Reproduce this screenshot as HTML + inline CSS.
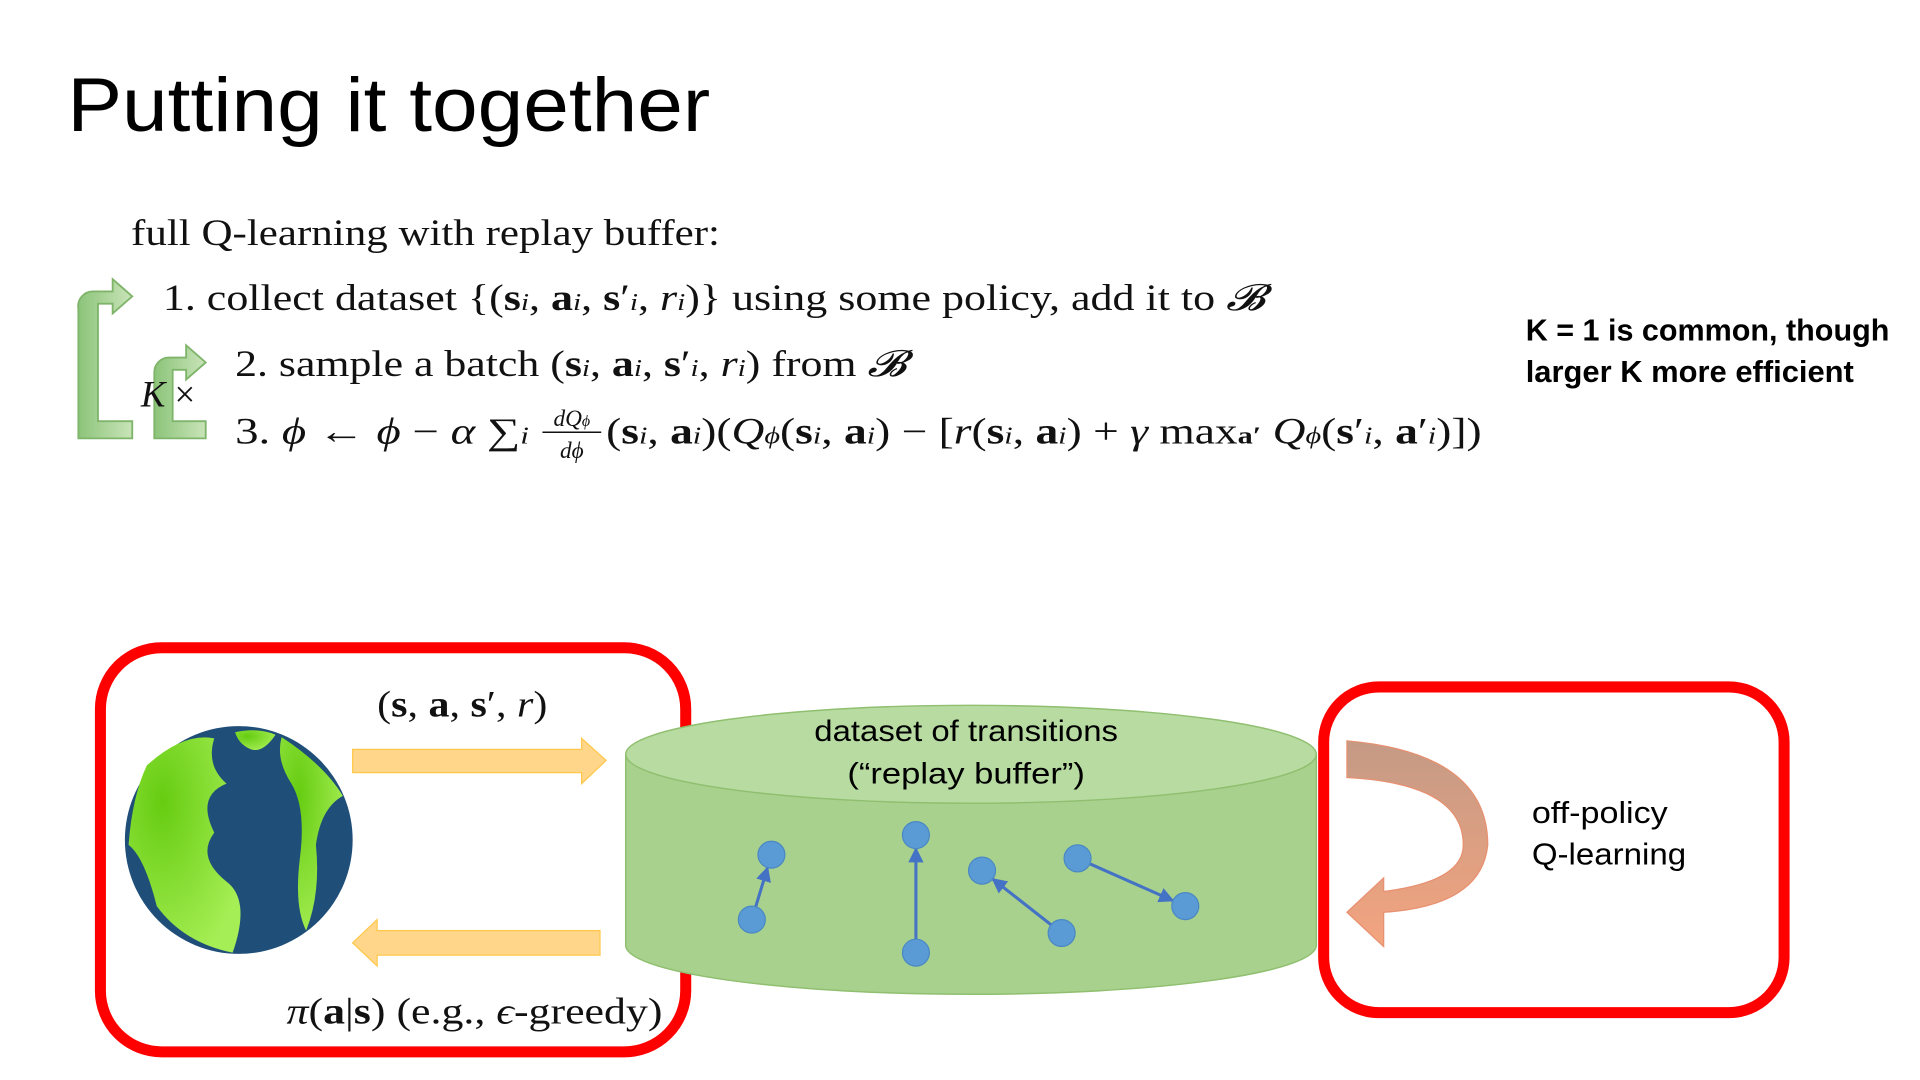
<!DOCTYPE html>
<html><head><meta charset="utf-8"><style>
html,body{margin:0;padding:0;background:#fff;width:1920px;height:1080px;overflow:hidden}
svg{display:block}
.m{font-family:"Liberation Serif",serif;fill:#111}
.s{font-family:"Liberation Sans",sans-serif;fill:#000}
</style></head><body>
<svg width="1920" height="1080" viewBox="0 0 1568 882" xmlns="http://www.w3.org/2000/svg">
<defs>
<linearGradient id="gr" x1="0" y1="0" x2="1" y2="0"><stop offset="0" stop-color="#8cc47a"/><stop offset="1" stop-color="#c9e4b8"/></linearGradient>
<linearGradient id="or" x1="0" y1="0" x2="0" y2="1"><stop offset="0" stop-color="#c49a85"/><stop offset="1" stop-color="#f4a47f"/></linearGradient>
<radialGradient id="land" cx="0.3" cy="0.3" r="0.8"><stop offset="0" stop-color="#66cc11"/><stop offset="1" stop-color="#a6ee55"/></radialGradient>
<marker id="ah" viewBox="0 0 10 10" refX="9" refY="5" markerWidth="5" markerHeight="5" orient="auto"><path d="M0,0L10,5L0,10z" fill="#4472c4"/></marker>
</defs>
<text x="55" y="107" class="s" font-size="62" textLength="525" lengthAdjust="spacingAndGlyphs">Putting it together</text>
<text x="107" y="200" class="m" font-size="30" textLength="481" lengthAdjust="spacingAndGlyphs">full Q-learning with replay buffer:</text>
<text x="133" y="253" class="m" font-size="30" textLength="900" lengthAdjust="spacingAndGlyphs">1. collect dataset {(<tspan font-weight="bold">s</tspan><tspan font-style="italic" font-size="20">i</tspan>, <tspan font-weight="bold">a</tspan><tspan font-style="italic" font-size="20">i</tspan>, <tspan font-weight="bold">s</tspan>′<tspan font-style="italic" font-size="20">i</tspan>, <tspan font-style="italic">r</tspan><tspan font-style="italic" font-size="20">i</tspan>)} using some policy, add it to <tspan font-style="italic">𝓑</tspan></text>
<text x="192" y="307" class="m" font-size="30" textLength="548" lengthAdjust="spacingAndGlyphs">2. sample a batch (<tspan font-weight="bold">s</tspan><tspan font-style="italic" font-size="20">i</tspan>, <tspan font-weight="bold">a</tspan><tspan font-style="italic" font-size="20">i</tspan>, <tspan font-weight="bold">s</tspan>′<tspan font-style="italic" font-size="20">i</tspan>, <tspan font-style="italic">r</tspan><tspan font-style="italic" font-size="20">i</tspan>) from <tspan font-style="italic">𝓑</tspan></text>
<g>
<text x="192" y="362" class="m" font-size="30" textLength="240" lengthAdjust="spacingAndGlyphs">3. <tspan font-style="italic">ϕ</tspan> ← <tspan font-style="italic">ϕ</tspan> − <tspan font-style="italic">α</tspan> ∑<tspan font-style="italic" font-size="20">i</tspan></text>
<text x="467" y="348" class="m" font-size="19" font-style="italic" text-anchor="middle">dQ<tspan font-size="13">ϕ</tspan></text>
<line x1="443" y1="353" x2="491" y2="353" stroke="#111" stroke-width="1.3"/>
<text x="467" y="374" class="m" font-size="19" font-style="italic" text-anchor="middle">dϕ</text>
<text x="495" y="362" class="m" font-size="30" textLength="715" lengthAdjust="spacingAndGlyphs">(<tspan font-weight="bold">s</tspan><tspan font-style="italic" font-size="20">i</tspan>, <tspan font-weight="bold">a</tspan><tspan font-style="italic" font-size="20">i</tspan>)(<tspan font-style="italic">Q</tspan><tspan font-style="italic" font-size="20">ϕ</tspan>(<tspan font-weight="bold">s</tspan><tspan font-style="italic" font-size="20">i</tspan>, <tspan font-weight="bold">a</tspan><tspan font-style="italic" font-size="20">i</tspan>) − [<tspan font-style="italic">r</tspan>(<tspan font-weight="bold">s</tspan><tspan font-style="italic" font-size="20">i</tspan>, <tspan font-weight="bold">a</tspan><tspan font-style="italic" font-size="20">i</tspan>) + <tspan font-style="italic">γ</tspan> max<tspan font-weight="bold" font-size="20">a′</tspan> <tspan font-style="italic">Q</tspan><tspan font-style="italic" font-size="20">ϕ</tspan>(<tspan font-weight="bold">s</tspan>′<tspan font-style="italic" font-size="20">i</tspan>, <tspan font-weight="bold">a</tspan>′<tspan font-style="italic" font-size="20">i</tspan>)])</text>
</g>
<!-- loop arrows -->
<path d="M108,358 H64 V252 A12,12 0 0 1 76,238 H92 V228 L108,242 L92,256 V248 H80 V344 H108 Z" fill="url(#gr)" stroke="#7fb56a" stroke-width="1.5"/>
<path d="M168,358 H126 V304 A12,12 0 0 1 138,292 H152 V282 L168,296 L152,310 V302 H141 V344 H168 Z" fill="url(#gr)" stroke="#7fb56a" stroke-width="1.5"/>
<text x="115" y="332" class="m" font-size="30" font-style="italic">K<tspan font-style="normal"> ×</tspan></text>
<text x="1246" y="278" class="s" font-size="25" font-weight="bold" textLength="297" lengthAdjust="spacingAndGlyphs">K = 1 is common, though</text>
<text x="1246" y="312" class="s" font-size="25" font-weight="bold" textLength="268" lengthAdjust="spacingAndGlyphs">larger K more efficient</text>
<!-- left box -->
<rect x="82" y="529" width="478" height="330" rx="50" fill="none" stroke="#ff0000" stroke-width="9"/>
<g>
<circle cx="195" cy="686" r="93" fill="#1f4e79"/>
<path d="M120,625 Q150,598 175,603 Q168,625 185,640 Q160,650 175,680 Q160,700 185,720 Q205,735 190,778 Q150,770 128,740 Q118,700 105,690 Q108,650 120,625Z" fill="url(#land)"/>
<path d="M230,602 Q265,625 280,650 Q262,660 258,690 Q262,730 250,760 Q240,740 245,700 Q250,660 238,640 Q225,620 230,602Z" fill="url(#land)"/>
<path d="M192,598 Q210,594 225,600 Q215,615 205,612 Q195,608 192,598Z" fill="url(#land)"/>
</g>
<path d="M288,612 H475 V603 L495,621 L475,640 V631 H288 Z" fill="#ffd68a" stroke="#ffc84a" stroke-width="1"/>
<path d="M490,760 H308 V751 L288,770 L308,789 V780 H490 Z" fill="#ffd68a" stroke="#ffc84a" stroke-width="1"/>
<text x="308" y="585" class="m" font-size="30" textLength="139" lengthAdjust="spacingAndGlyphs">(<tspan font-weight="bold">s</tspan>, <tspan font-weight="bold">a</tspan>, <tspan font-weight="bold">s</tspan>′, <tspan font-style="italic">r</tspan>)</text>
<text x="234" y="836" class="m" font-size="30" textLength="307" lengthAdjust="spacingAndGlyphs"><tspan font-style="italic">π</tspan>(<tspan font-weight="bold">a</tspan>|<tspan font-weight="bold">s</tspan>) (e.g., <tspan font-style="italic">ϵ</tspan>-greedy)</text>
<!-- cylinder -->
<g>
<path d="M511,616 V772 A282,40 0 0 0 1075,772 V616 Z" fill="#a9d18e" stroke="#8fbf6f" stroke-width="1.2"/>
<ellipse cx="793" cy="616" rx="282" ry="40" fill="#b7dba1" stroke="#8fbf6f" stroke-width="1.2"/>
</g>
<text x="665" y="605" class="s" font-size="24" textLength="248" lengthAdjust="spacingAndGlyphs">dataset of transitions</text>
<text x="692" y="640" class="s" font-size="24" textLength="194" lengthAdjust="spacingAndGlyphs">(“replay buffer”)</text>
<g id="pts"></g>
<!-- right box -->
<rect x="1081" y="561" width="376" height="266" rx="45" fill="none" stroke="#ff0000" stroke-width="9"/>
<path d="M1100,605 Q1215,615 1215,690 Q1210,740 1130,745 V773 L1100,745 L1130,717 V728 Q1195,720 1195,690 Q1195,640 1100,635 Z" fill="url(#or)" stroke="#e89070" stroke-width="1"/>
<text x="1251" y="672" class="s" font-size="25" textLength="111" lengthAdjust="spacingAndGlyphs">off-policy</text>
<text x="1251" y="706" class="s" font-size="25" textLength="126" lengthAdjust="spacingAndGlyphs">Q-learning</text>
<script>
const px=[630,614,748,748,802,867,880,968];
const py=[698,751,682,778,711,762,701,740];
const links=[[1,0],[3,2],[5,4],[6,7]];
const NS="http://www.w3.org/2000/svg",g=document.getElementById('pts');
links.forEach(([a,b])=>{
 const l=document.createElementNS(NS,'line');
 const dx=px[b]-px[a],dy=py[b]-py[a],d=Math.hypot(dx,dy)||1,k=11/d;
 l.setAttribute('x1',px[a]+dx*k);l.setAttribute('y1',py[a]+dy*k);
 l.setAttribute('x2',px[b]-dx*k);l.setAttribute('y2',py[b]-dy*k);
 l.setAttribute('stroke','#4472c4');l.setAttribute('stroke-width','2.5');l.setAttribute('marker-end','url(#ah)');
 
 
 g.appendChild(l);
});
px.forEach((x,i)=>{
 const c=document.createElementNS(NS,'circle');
 c.setAttribute('cx',x);c.setAttribute('cy',py[i]);c.setAttribute('r',11);
 c.setAttribute('fill','#5b9bd5');c.setAttribute('stroke','#4a88c4');
 
 
 g.appendChild(c);
});
</script>
</svg>
</body></html>
